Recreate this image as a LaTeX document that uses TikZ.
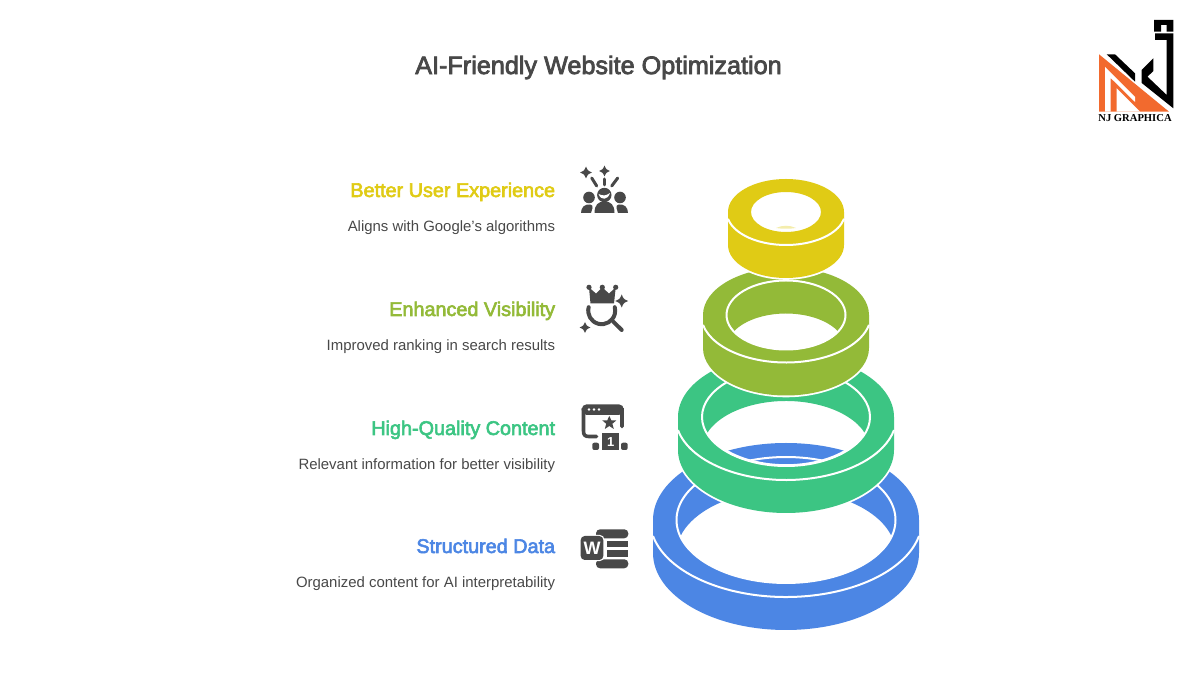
\documentclass[tikz,border=0pt]{standalone}
\usepackage{fontspec}
\setmainfont{Liberation Sans}
\newfontfamily\logofont{Liberation Serif}
\newfontfamily\medfont[FakeBold=3]{Liberation Sans}
\usetikzlibrary{calc}

\definecolor{ringyellow}{HTML}{E0CB15}
\definecolor{ringlime}{HTML}{93BA38}
\definecolor{ringteal}{HTML}{3CC583}
\definecolor{ringblue}{HTML}{4C86E4}
\definecolor{icongray}{HTML}{484848}
\definecolor{logoorange}{HTML}{F26A2E}

\tikzset{
  head/.style={anchor=base east,inner sep=0pt,font=\medfont\fontsize{9.9}{11}\selectfont},
  desc/.style={anchor=base east,inner sep=0pt,text=icongray,font=\fontsize{7.47}{9}\selectfont},
  icon/.style={fill=icongray,draw=none},
  iconline/.style={draw=icongray,line cap=round,fill=none},
}

% #1 x, #2 y, #3 size
\newcommand{\sparkle}[3]{
  \fill[icongray] (#1,#2+#3) .. controls (#1+0.3*#3,#2+0.3*#3) .. (#1+#3,#2)
    .. controls (#1+0.3*#3,#2-0.3*#3) .. (#1,#2-#3)
    .. controls (#1-0.3*#3,#2-0.3*#3) .. (#1-#3,#2)
    .. controls (#1-0.3*#3,#2+0.3*#3) .. (#1,#2+#3) -- cycle;
}

\begin{document}
\begin{tikzpicture}[x=0.5pt,y=0.5pt]

  \useasboundingbox (0,0) rectangle (1200,675);

  \node[inner sep=0pt,text=icongray,font=\medfont\fontsize{12.6}{15}\selectfont] (title) at (598.5,607.5) {AI-Friendly Website Optimization};

  % labels on the left
  \foreach \n/\y/\c/\a/\b in {user/478/ringyellow/Better User Experience/Aligns with Google's algorithms,
    vis/359/ringlime/Enhanced Visibility/Improved ranking in search results,
    content/240/ringteal/High-Quality Content/Relevant information for better visibility,
    data/122/ringblue/Structured Data/Organized content for AI interpretability}
  {
    \node[head,text=\c] (head\n) at (555.5,\y) {\a};
    \node[desc] (desc\n) at ($(head\n.base east)+(0,-35)$) {\b};
  }

  % rings, from the bottom up
  \pgfmathsetmacro\cx{786}
  \foreach \c/\cy/\rx/\ry/\ix/\iy/\h in {ringblue/155/133/77/109.5/63/33,
    ringteal/258/108/63/84/49/33,
    ringlime/360/83/47.5/59.5/34.5/33,
    ringyellow/463/58/33/35/20/0}
  {
    \pgfmathsetmacro\t{asin((\h/2)/\iy)}
    \pgfmathsetmacro\wx{\rx/cos(12)}
    \ifdim \h pt>0pt
      \fill[\c,even odd rule,preaction={draw=white,line width=1.8pt}]
        (\cx-\rx,\cy) arc[start angle=180,end angle=0,x radius=\rx,y radius=\ry]
        -- (\cx+\rx,\cy-\h) arc[start angle=0,end angle=-180,x radius=\rx,y radius=\ry] -- cycle
        ({\cx-\ix*cos(\t)},\cy-\h/2) arc[start angle=180+\t,end angle=360-\t,x radius=\ix,y radius=\iy]
        arc[start angle=\t,end angle=180-\t,x radius=\ix,y radius=\iy] -- cycle;
      \draw[white,line width=1pt] (\cx,\cy) ellipse[x radius=\ix,y radius=\iy];
    \else
      % top ring is a plain block with a hole
      \fill[\c,even odd rule,preaction={draw=white,line width=1.8pt}]
        (\cx-\rx,\cy) arc[start angle=180,end angle=0,x radius=\rx,y radius=\ry]
        -- (\cx+\rx,\cy-33) arc[start angle=0,end angle=-180,x radius=\rx,y radius=\ry] -- cycle
        (\cx,\cy) ellipse[x radius=\ix,y radius=\iy];
    \fi
    \draw[white,line width=1pt] ({\cx-\rx},{\cy-\ry*sin(12)}) arc[start angle=192,end angle=348,x radius=\wx,y radius=\ry];
  }
  \fill[ringyellow!35] (776,447) .. controls (782,450) and (790,450) .. (796,447) .. controls (790,446) and (782,446) .. (776,447) -- cycle;

  % icon: people
  \sparkle{586}{502.5}{6}
  \sparkle{604.5}{504}{5.5}
  \draw[iconline,line width=1.5pt] (591.7,497) -- (596.7,489);
  \draw[iconline,line width=1.5pt] (604.3,496) -- (604.3,490);
  \draw[iconline,line width=1.5pt] (617.7,497) -- (611.7,489);
  \fill[icon] (589,477.5) circle (5.8);
  \fill[icon] (620,477.5) circle (5.8);
  \fill[icon] (604.3,480) circle (7.2);
  \fill[white] (598.5,481) .. controls (603,479) and (606,479) .. (610,482) .. controls (608,475) and (601,474) .. (598.5,481) -- cycle;
  \fill[icon] (581,462) .. controls (581,468) and (585,471) .. (590,470.5) .. controls (592,470.5) and (593,469) .. (592.5,467) -- (591,462) -- cycle;
  \fill[icon] (628,462) .. controls (628,468) and (624,471) .. (619,470.5) .. controls (617,470.5) and (616,469) .. (616.5,467) -- (618,462) -- cycle;
  \fill[icon] (594.5,462) .. controls (594.5,470) and (598,473.5) .. (604.5,473.5) .. controls (611,473.5) and (614.5,470) .. (614.5,462) -- cycle;

  % icon: crown and loupe
  \fill[icon] (590.5,371.5) -- (589,387.5) -- (596,381.5) -- (602.3,387.5) -- (609,381.5) -- (615.7,387.5) -- (614,371.5) -- cycle;
  \foreach \x in {589,602.3,615.7}
    \fill[icon] (\x,387.7) circle (2.6);
  \draw[iconline,line width=2pt] (588.66,367.8) arc[start angle=165,end angle=375,radius=13.5];
  \draw[iconline,line width=2pt] (613.3,353.3) -- (621.7,345);
  \sparkle{621.7}{374}{6.5}
  \sparkle{585}{347.5}{5.5}

  % icon: window and podium
  \draw[iconline,line width=1.8pt] (596.5,238.5) -- (589,238.5) .. controls (585,238.5) and (583.5,240) .. (583.5,244)
    -- (583.5,265) -- (622,265) -- (622,248.5);
  \fill[icon,rounded corners=2.5] (581.7,260) rectangle (623.8,270.7);
  \foreach \x in {589,594,599}
    \fill[white] (\x,265.5) circle (1.4);
  \fill[icon] (609.3,259) -- (611.4,254.6) -- (616.3,254.6) -- (612.4,251.2) -- (613.8,246) -- (609.3,249) -- (604.8,246) -- (606.2,251.2) -- (602.3,254.6) -- (607.2,254.6) -- cycle;
  \fill[icon] (602.3,225) rectangle (619.3,241.7);
  \fill[icon,rounded corners=1] (592.3,225) rectangle (599,232.3);
  \fill[icon,rounded corners=1] (621,225) rectangle (627.7,232.3);
  \node[inner sep=0pt,text=white,font=\bfseries\fontsize{6.5}{7}\selectfont] (podium) at (610.8,233) {1};

  % icon: document
  \fill[icon,rounded corners=2] (596,136.7) rectangle (628.3,145.7);
  \fill[icon] (606.7,128.3) rectangle (628.3,134.3);
  \fill[icon] (606.7,118.3) rectangle (628.3,125);
  \fill[icon,rounded corners=2] (596,106.7) rectangle (628.3,115.7);
  \fill[icon,rounded corners=2,preaction={draw=white,line width=1.2pt}] (580.7,115) rectangle (603.3,139);
  \node[inner sep=0pt,text=white,font=\bfseries\fontsize{9}{10}\selectfont] (wordw) at (592,127) {W};

  % logo
  \fill[black] (1154,655) -- (1173.3,655) -- (1173.3,643.3) -- (1166.7,643.3) -- (1166.7,650) -- (1161,650) -- (1161,643.3) -- (1154,643.3) -- cycle;
  \fill[black] (1155,641.7) -- (1173.3,641.7) -- (1173.3,566.7) -- (1141.7,592) -- (1141.7,605) -- (1153.3,616.7) -- (1153.3,604) -- (1147.5,598.3) -- (1166.7,580) -- (1166.7,635) -- (1155,635) -- cycle;
  \fill[black] (1106.7,620.7) -- (1115,620.7) -- (1135,601.7) -- (1135,593.3) -- cycle;
  \fill[logoorange] (1099,620.7) -- (1169,563.3) -- (1099,563.3) -- cycle;
  \fill[white] (1105,563.3) -- (1105,608) -- (1135,578) -- (1135,573) -- (1110.7,597) -- (1110.7,563.3) -- cycle;
  \fill[white] (1116.7,563.3) -- (1116.7,586.7) -- (1140,563.3) -- cycle;

  \node[inner sep=0pt,text=black,font=\logofont\bfseries\fontsize{5.3}{6}\selectfont] (logotext) at (1135,556.5) {NJ GRAPHICA};

\end{tikzpicture}
\end{document}
